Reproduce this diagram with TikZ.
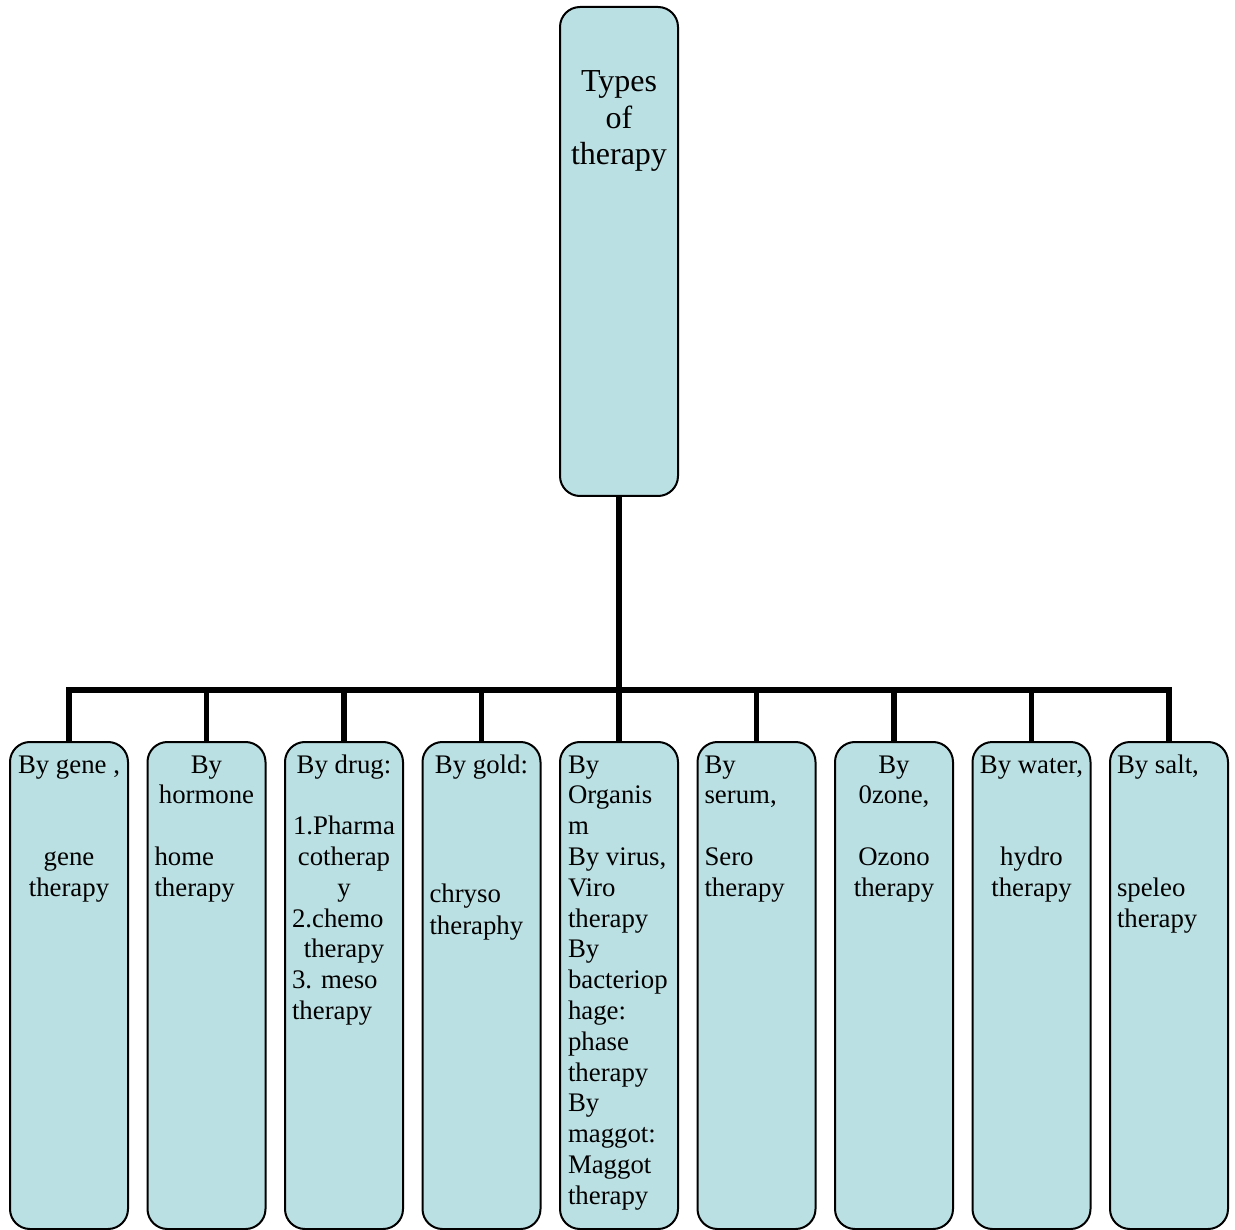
\documentclass[tikz,border=0pt]{standalone}
\usepackage{fontspec}
\setmainfont{Liberation Serif}
\definecolor{boxfill}{RGB}{187,224,227}
% text lines of a fixed width: centred, left-aligned, blank
\newlength\linew
\setlength\linew{104pt}
\newcommand\Cl[1]{\hbox to \linew{\hss#1\hss}}
\newcommand\Ll[1]{\hbox to \linew{#1\hss}}
\newcommand\Bl{\hbox{}}
\newcommand\stack[2]{\vtop{\baselineskip=#1\lineskiplimit=-100pt\lineskip=0pt #2}}
\tikzset{
  therapybox/.style={draw=black, line width=2pt, fill=boxfill, rounded corners=20pt,
    minimum width=118pt, minimum height=487pt, inner sep=0pt, outer sep=0pt},
  boxtext/.style={anchor=base west, inner sep=0pt, outer sep=0pt,
    font=\fontsize{26.8pt}{30.8pt}\selectfont},
  link/.style={line width=5.5pt, line join=miter}
}
\begin{document}
\begin{tikzpicture}[x=1pt, y=-1pt]
\useasboundingbox (0,0) rectangle (1235,1230);

% root
\node[therapybox, minimum height=489pt, anchor=north] (root) at (619,7) {};
\node[anchor=base, inner sep=0pt, font=\fontsize{32pt}{36pt}\selectfont] (roottext)
  at ([yshift=-85pt]root.north)
  {\stack{36.3pt}{\Cl{Types}\Cl{of}\Cl{therapy}}};

% children
\foreach \i in {1,...,9} {
  \node[therapybox, anchor=north] (b\i) at ({69+137.5*(\i-1)},742) {};
}

\node[boxtext] (t1) at ([xshift=7pt,yshift=-31pt]b1.north west)
  {\stack{30.8pt}{\Cl{By gene ,}\Bl\Bl\Cl{gene}\Cl{therapy}}};
\node[boxtext] (t2) at ([xshift=7pt,yshift=-31pt]b2.north west)
  {\stack{30.8pt}{\Cl{By}\Cl{hormone}\Bl\Ll{home}\Ll{therapy}}};
\node[boxtext] (t3) at ([xshift=7pt,yshift=-31pt]b3.north west)
  {\stack{30.8pt}{\Cl{By drug:}\Bl\Cl{1.Pharma}\Cl{cotherap}\Cl{y}\Ll{2.chemo}\Cl{therapy}\Ll{3. meso}\Ll{therapy}}};
\node[boxtext] (t4) at ([xshift=7pt,yshift=-31pt]b4.north west)
  {\stack{30.8pt}{\Cl{By gold:}\Bl\Bl\Bl\kern6pt\Ll{chryso}\kern1pt\Ll{theraphy}}};
\node[boxtext] (t5) at ([xshift=8pt,yshift=-31pt]b5.north west)
  {\stack{30.8pt}{\Ll{By}\Ll{Organis}\Ll{m}\Ll{By virus,}\Ll{Viro}\Ll{therapy}\Ll{By}\Ll{bacteriop}\Ll{hage:}\Ll{phase}\Ll{therapy}\Ll{By}\Ll{maggot:}\Ll{Maggot}\Ll{therapy}}};
\node[boxtext] (t6) at ([xshift=7pt,yshift=-31pt]b6.north west)
  {\stack{30.8pt}{\Ll{By}\Ll{serum,}\Bl\Ll{Sero}\Ll{therapy}}};
\node[boxtext] (t7) at ([xshift=7pt,yshift=-31pt]b7.north west)
  {\stack{30.8pt}{\Cl{By}\Cl{0zone,}\Bl\Cl{Ozono}\Cl{therapy}}};
\node[boxtext] (t8) at ([xshift=7pt,yshift=-31pt]b8.north west)
  {\stack{30.8pt}{\Cl{By water,}\Bl\Bl\Cl{hydro}\Cl{therapy}}};
\node[boxtext] (t9) at ([xshift=7pt,yshift=-31pt]b9.north west)
  {\stack{30.8pt}{\Ll{By salt,}\Bl\Bl\Bl\Ll{speleo}\Ll{therapy}}};

% connectors
\coordinate (bus) at (619,690);
\draw[link] (root.south) -- (bus);
\draw[link] (b1.north) |- (b9.north |- bus) -- (b9.north);
\foreach \i in {2,...,8} {
  \draw[link] (b\i.north |- bus) -- (b\i.north);
}
\end{tikzpicture}
\end{document}
